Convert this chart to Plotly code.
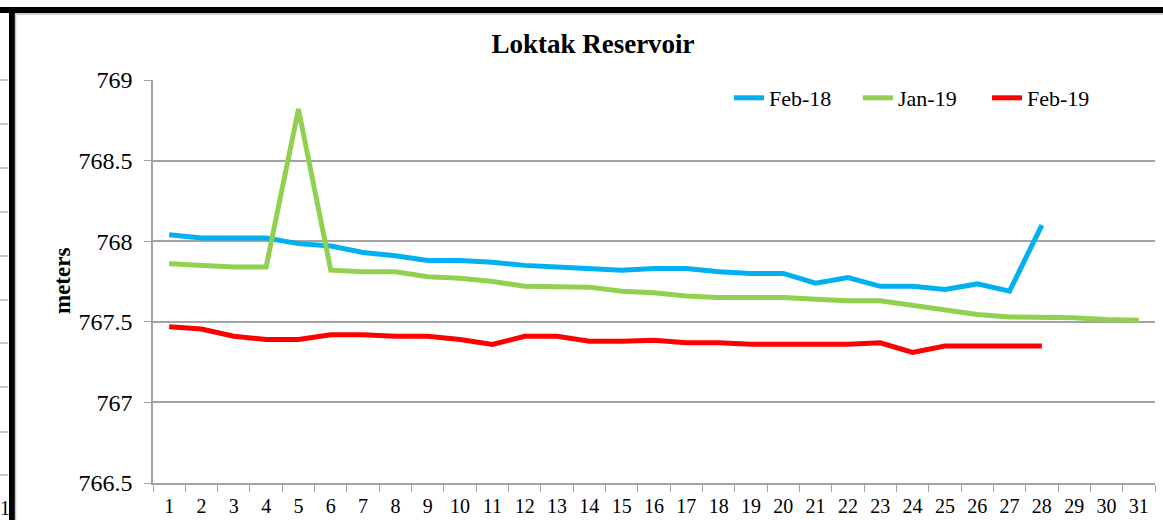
import plotly.graph_objects as go

# ---------------- data ----------------
days = [str(d) for d in range(1, 32)]

feb18 = [768.04, 768.02, 768.02, 768.02, 767.985, 767.97, 767.93, 767.91, 767.88, 767.88,
         767.87, 767.85, 767.84, 767.83, 767.82, 767.83, 767.83, 767.81, 767.80, 767.80,
         767.74, 767.775, 767.72, 767.72, 767.70, 767.735, 767.69, 768.10]

jan19 = [767.86, 767.85, 767.84, 767.84, 768.82, 767.82, 767.81, 767.81, 767.78, 767.77,
         767.75, 767.72, 767.715, 767.715, 767.69, 767.68, 767.66, 767.65, 767.65, 767.65,
         767.64, 767.63, 767.63, 767.60, 767.57, 767.545, 767.53, 767.53, 767.525, 767.515,
         767.51]

feb19 = [767.47, 767.455, 767.41, 767.39, 767.39, 767.42, 767.42, 767.41, 767.41, 767.39,
         767.36, 767.41, 767.41, 767.38, 767.38, 767.385, 767.37, 767.37, 767.36, 767.36,
         767.36, 767.36, 767.37, 767.31, 767.35, 767.35, 767.35, 767.35]

series_names = ["Feb-18", "Jan-19", "Feb-19"]
series_colors = ["#00B0F0", "#92D050", "#FF0000"]
y_ticks = [766.5, 767, 767.5, 768, 768.5, 769]

# ---------------- figure ----------------
W, H = 1163, 520
L, R, T, B = 153, 8, 80, 37
PW = W - L - R
PH = H - T - B
FONT = '"Liberation Serif", "Times New Roman", serif'


def px_x(px):
    return (px - L) / PW


def px_y(py):
    return (H - B - py) / PH


fig = go.Figure()
for name, vals, col in zip(series_names, [feb18, jan19, feb19], series_colors):
    fig.add_trace(go.Scatter(
        x=days[:len(vals)], y=vals, mode="lines", name=name,
        line=dict(color=col, width=5),
    ))

grid_col = "#A3A3A3"

shapes = []
# decorative frame pieces (cropped page border from the source document)
shapes.append(dict(type="rect", xref="paper", yref="paper",
                   x0=px_x(-5), x1=px_x(W + 5), y0=px_y(13), y1=px_y(7),
                   fillcolor="black", line=dict(width=0), layer="above"))
shapes.append(dict(type="rect", xref="paper", yref="paper",
                   x0=px_x(9), x1=px_x(15), y0=px_y(H + 5), y1=px_y(7),
                   fillcolor="black", line=dict(width=0), layer="above"))
shapes.append(dict(type="line", xref="paper", yref="paper",
                   x0=px_x(15), x1=px_x(W + 5), y0=px_y(14), y1=px_y(14),
                   line=dict(color="#C0C0C0", width=1.5)))
shapes.append(dict(type="line", xref="paper", yref="paper",
                   x0=px_x(15.5), x1=px_x(15.5), y0=px_y(14), y1=px_y(H + 5),
                   line=dict(color="#C0C0C0", width=1.5)))
for yy in [80, 124, 168, 212, 256, 300, 343, 387, 432, 475]:
    shapes.append(dict(type="line", xref="paper", yref="paper",
                       x0=px_x(0), x1=px_x(8), y0=px_y(yy), y1=px_y(yy),
                       line=dict(color="#A0A0A0", width=1.2)))

annotations = [
    dict(text="<b>meters</b>", textangle=-90, xref="paper", yref="paper",
         x=px_x(62), y=px_y(281), showarrow=False,
         font=dict(family=FONT, size=23, color="black"),
         xanchor="center", yanchor="middle"),
    dict(text="1", xref="paper", yref="paper", x=px_x(-2), y=px_y(508),
         showarrow=False, font=dict(family=FONT, size=20, color="black"),
         xanchor="left", yanchor="middle"),
]

fig.update_layout(
    width=W, height=H,
    margin=dict(l=L, r=R, t=T, b=B, pad=0),
    paper_bgcolor="white", plot_bgcolor="white",
    font=dict(family=FONT, size=22, color="black"),
    title=dict(text="Loktak Reservoir", x=px_x(593), xref="paper", xanchor="center",
               y=1 - 44 / H, yref="container", yanchor="middle",
               font=dict(family=FONT, size=27, color="black", weight="bold")),
    legend=dict(orientation="h", x=px_x(729), y=px_y(98), xanchor="left", yanchor="middle",
                font=dict(family=FONT, size=22, color="black"),
                bgcolor="rgba(0,0,0,0)", entrywidth=84, entrywidthmode="pixels",
                itemwidth=30),
    xaxis=dict(type="category", categoryorder="array", categoryarray=days,
               range=[-0.5, 30.5], tickson="boundaries", ticks="outside", ticklen=7,
               tickcolor=grid_col, tickwidth=1.2, showline=True, linecolor=grid_col,
               linewidth=1.5, showgrid=False, zeroline=False, automargin=False,
               tickfont=dict(family=FONT, size=20, color="black"),
               ticklabelstandoff=4),
    yaxis=dict(range=[766.5, 769], tickmode="array", tickvals=y_ticks,
               ticktext=[f"{v:g}" for v in y_ticks],
               ticks="outside", ticklen=7, tickcolor=grid_col, tickwidth=1.2,
               showline=True, linecolor=grid_col, linewidth=1.5, automargin=False,
               showgrid=True, gridcolor=grid_col, gridwidth=1.5, zeroline=False,
               tickfont=dict(family=FONT, size=24, color="black"),
               ticklabelstandoff=7),
    shapes=shapes,
    annotations=annotations,
)

fig.write_html("out.html", config={"displayModeBar": False},
               post_script="document.body.style.margin = '0';")
